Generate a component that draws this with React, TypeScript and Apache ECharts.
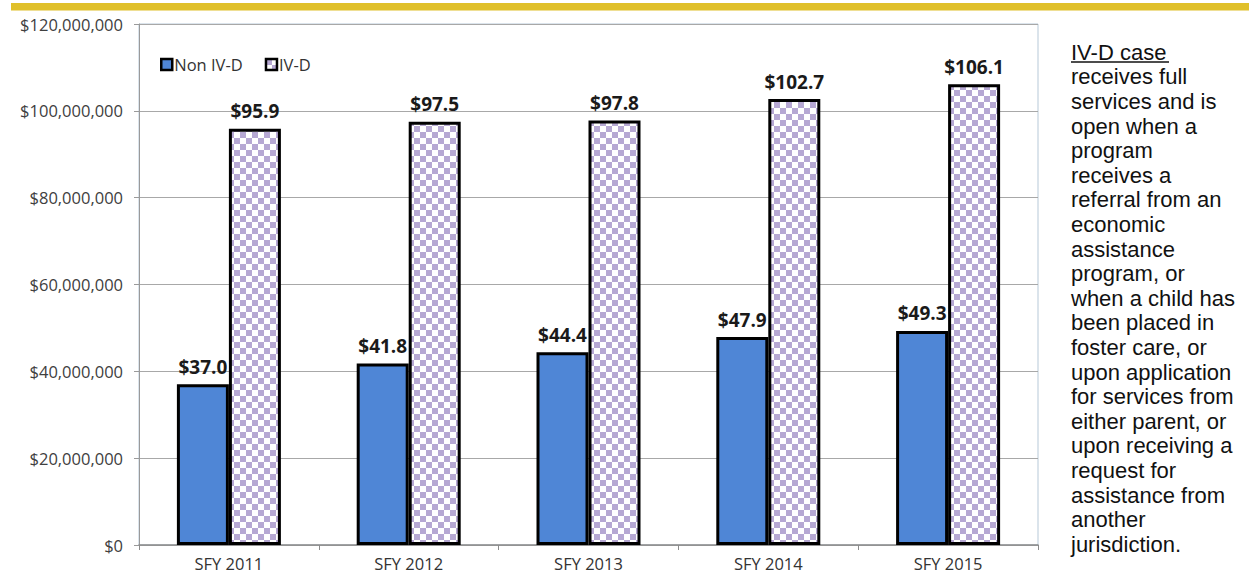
import React, { useEffect, useRef } from "react";
import * as echarts from "echarts";

const categories = ["SFY 2011", "SFY 2012", "SFY 2013", "SFY 2014", "SFY 2015"];
const nonIVD = [37.0e6, 41.8e6, 44.4e6, 47.9e6, 49.3e6];
const ivd = [95.9e6, 97.5e6, 97.8e6, 102.7e6, 106.1e6];
const seriesNames = ["Non IV-D", "IV-D"];
const noteTitle = "IV-D case";
const noteLines = [
  "receives full",
  "services and is",
  "open when a",
  "program",
  "receives a",
  "referral from an",
  "economic",
  "assistance",
  "program, or",
  "when a child has",
  "been placed in",
  "foster care, or",
  "upon application",
  "for services from",
  "either parent, or",
  "upon receiving a",
  "request for",
  "assistance from",
  "another",
  "jurisdiction.",
];

function makeChecker() {
  const c = document.createElement("canvas");
  const s = 6;
  c.width = s * 2;
  c.height = s * 2;
  const ctx = c.getContext("2d")!;
  ctx.fillStyle = "#ffffff";
  ctx.fillRect(0, 0, s * 2, s * 2);
  ctx.fillStyle = "#b6a8d3";
  ctx.fillRect(0, 0, s, s);
  ctx.fillRect(s, s, s, s);
  return c;
}

export default function App() {
  const ref = useRef<HTMLDivElement>(null);
  useEffect(() => {
    if (!ref.current) return;
    const chart = echarts.init(ref.current, null, { renderer: "svg" });
    const checker = makeChecker();
    const pattern: any = { image: checker, repeat: "repeat", imageWidth: 12, imageHeight: 12 };
    const fmtMoney = (v: number) => "$" + v.toLocaleString("en-US");
    const labelFmt = (p: any) => "$" + (p.value / 1e6).toFixed(1);
    const labelStyle = {
      show: true,
      position: "top" as const,
      distance: 8,
      formatter: labelFmt,
      fontFamily: "Open Sans",
      fontWeight: "bold" as const,
      fontSize: 19,
      color: "#1a1a1a",
    };
    chart.setOption({
      animation: false,
      backgroundColor: "#ffffff",
      grid: {
        left: 139,
        top: 24,
        right: 211,
        bottom: 31,
        show: true,
        borderColor: "#b7c9d8",
        borderWidth: 1,
      },
      legend: {
        left: 155,
        top: 51,
        itemWidth: 11,
        itemHeight: 11,
        itemGap: 22,
        icon: "rect",
        itemStyle: { borderWidth: 2.5, borderColor: "#000" },
        textStyle: { fontFamily: "Open Sans", fontSize: 16.5, color: "#333", padding: [0, 0, 0, -3] },
        data: seriesNames,
      },
      xAxis: {
        type: "category",
        data: categories,
        axisLine: { lineStyle: { color: "#8c8c8c", width: 1.5 } },
        axisTick: { show: true, length: 5, lineStyle: { color: "#8c8c8c" } },
        axisLabel: { fontFamily: "Open Sans", fontSize: 16.5, color: "#333", margin: 10 },
      },
      yAxis: {
        type: "value",
        min: 0,
        max: 120e6,
        interval: 20e6,
        axisLine: { show: true, lineStyle: { color: "#9a9a9a" } },
        axisTick: { show: true, length: 5, lineStyle: { color: "#9a9a9a" } },
        splitLine: { lineStyle: { color: "#a8a8a8" } },
        axisLabel: {
          fontFamily: "Open Sans",
          fontSize: 16.5,
          color: "#404040",
          margin: 16,
          formatter: fmtMoney,
        },
      },
      series: [
        {
          name: seriesNames[0],
          type: "bar",
          data: nonIVD,
          barWidth: 52,
          barGap: "0%",
          itemStyle: { color: "#4f86d6", borderColor: "#000", borderWidth: 3 },
          label: labelStyle,
        },
        {
          name: seriesNames[1],
          type: "bar",
          data: ivd,
          barWidth: 52,
          barGap: "0%",
          itemStyle: { color: pattern, borderColor: "#000", borderWidth: 3 },
          label: labelStyle,
        },
      ],
      graphic: [
        {
          type: "rect",
          shape: { x: 11, y: 3, width: 1240, height: 7.5 },
          style: { fill: "#e0c02a" },
          silent: true,
        },
        {
          type: "text",
          x: 1071,
          y: 40,
          style: {
            text: [noteTitle, ...noteLines].join("\n"),
            font: '22px "Liberation Sans"',
            lineHeight: 24.6,
            fill: "#111",
            textVerticalAlign: "top",
          },
        },
        {
          type: "line",
          shape: { x1: 1071, y1: 62, x2: 1169, y2: 62 },
          style: { stroke: "#111", lineWidth: 1.5 },
        },
      ],
    });
    return () => chart.dispose();
  }, []);
  return (
    <div
      ref={ref}
      style={{ position: "fixed", left: 0, top: 0, width: 1249, height: 576 }}
    />
  );
}
